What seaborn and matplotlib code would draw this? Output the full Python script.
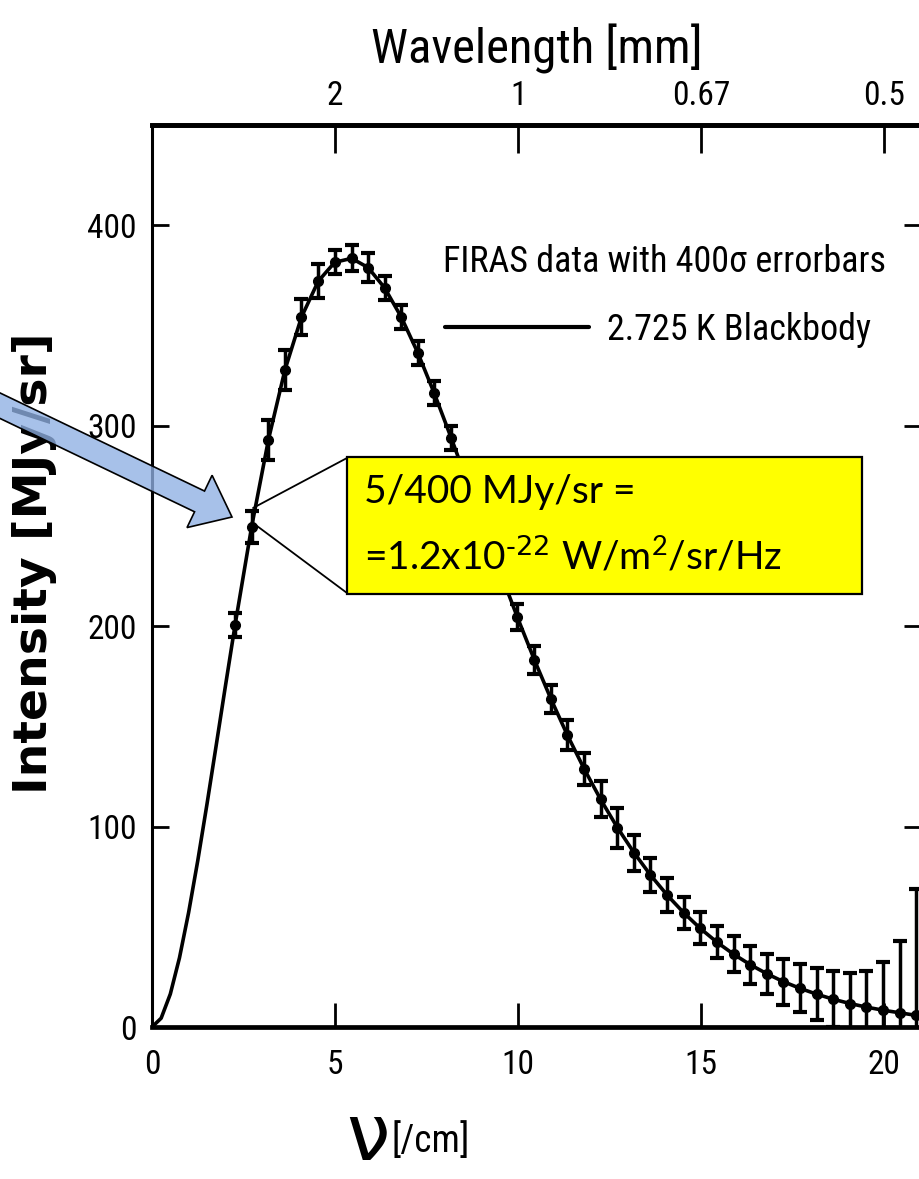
import numpy as np
import pandas as pd
import seaborn as sns
import matplotlib
matplotlib.use("Agg")
import matplotlib.pyplot as plt
from matplotlib.transforms import Affine2D
from matplotlib.patches import FancyArrow, Rectangle
from matplotlib.lines import Line2D
import logging
logging.getLogger("matplotlib.font_manager").setLevel(logging.ERROR)

# ---------------- data ----------------
nu_data = [2.27, 2.72, 3.18, 3.63, 4.08, 4.54, 4.99, 5.45, 5.90, 6.35, 6.81, 7.26,
           7.71, 8.17, 8.62, 9.08, 9.53, 9.98, 10.44, 10.89, 11.34, 11.80, 12.25,
           12.71, 13.16, 13.61, 14.07, 14.52, 14.97, 15.43, 15.88, 16.34, 16.79,
           17.24, 17.70, 18.15, 18.61, 19.06, 19.51, 19.97, 20.42, 20.87, 21.33]
intensity_data = [200.723, 249.508, 293.024, 327.770, 354.081, 372.079, 381.493,
                  383.478, 378.901, 368.833, 354.063, 336.278, 316.076, 293.924,
                  271.432, 248.239, 225.940, 204.327, 183.262, 163.830, 145.750,
                  128.835, 113.568, 99.451, 87.036, 75.876, 65.766, 57.008, 49.223,
                  42.267, 36.352, 31.062, 26.580, 22.644, 19.255, 16.391, 13.811,
                  11.716, 9.921, 8.364, 7.087, 5.801, 4.523]
error_400sigma = [6, 8, 10, 10, 9, 8.5, 6, 6.5, 7, 6, 6, 6, 6, 6, 6, 6, 6.5, 6.5,
                  7, 7, 7.5, 8, 9, 10, 9, 8.5, 8.5, 8, 8, 8, 9, 9.5, 10, 11.5, 12,
                  13, 14, 15, 18, 24, 36, 63, 100]
curve_nu_low = [0.0, 0.25, 0.5, 0.75, 1.0, 1.25, 1.5, 1.75, 2.0]
curve_I_low = [0.0, 4.40, 16.44, 34.50, 57.12, 83.01, 111.02, 140.14, 169.52]

x_ticks = [0, 5, 10, 15, 20]
y_ticks = [0, 100, 200, 300, 400]
wl_tick_nu = [5, 10, 15, 20]
wl_tick_labels = ["2", "1", "0.67", "0.5"]

curve_df = pd.DataFrame({"nu": curve_nu_low + nu_data,
                         "I": curve_I_low + intensity_data})

# ---------------- style ----------------
W, H = 920, 1179
sns.set_theme(style="ticks")
NARROW = ["Roboto Condensed", "Liberation Sans Narrow", "Arial Narrow",
          "Liberation Sans", "DejaVu Sans"]
plt.rcParams["font.family"] = NARROW
plt.rcParams["mathtext.default"] = "regular"
for key in ["text.color", "axes.labelcolor", "xtick.color", "ytick.color",
            "axes.edgecolor"]:
    plt.rcParams[key] = "black"

fig = plt.figure(figsize=(W / 100, H / 100), dpi=100)
fig.patch.set_facecolor("white")
ax = fig.add_axes([152 / W, (H - 1027) / H, (921 - 152) / W, (1027 - 125) / H])
ax.set_facecolor("white")

sns.lineplot(data=curve_df, x="nu", y="I", color="black", lw=2.6, ax=ax,
             sort=False, zorder=3)
ax.errorbar(nu_data, intensity_data, yerr=error_400sigma, fmt="o", color="black",
            ms=7, capsize=5, elinewidth=2.5, capthick=3.0, zorder=4)

ax.set_xlim(0, 21.0)
ax.set_ylim(0, 450)
ax.set_xticks(x_ticks)
ax.set_yticks(y_ticks)
ax.set_xlabel("")
ax.set_ylabel("Intensity [MJy/sr]", fontsize=34, family="DejaVu Sans",
              weight="bold", color="black")
ax.yaxis.set_label_coords(-0.124, 0.514)

ax.tick_params(axis="x", direction="in", length=17, width=2, labelsize=24,
               pad=16, top=False)
ax.tick_params(axis="y", direction="in", length=12, width=2, labelsize=24,
               pad=11, right=True)
for side in ["bottom", "top"]:
    ax.spines[side].set_linewidth(3.4)
for side in ["left", "right"]:
    ax.spines[side].set_linewidth(2.2)
    ax.spines[side].set_visible(True)
ax.spines["top"].set_visible(True)

sec = ax.secondary_xaxis("top")
sec.set_xticks(wl_tick_nu, labels=wl_tick_labels)
sec.tick_params(axis="x", direction="in", length=20, width=2, labelsize=24, pad=9)
sec.spines["top"].set_linewidth(3.4)
sec.set_xlabel("Wavelength [mm]", fontsize=35, labelpad=12)

# legend-like texts
ax.text((443 - 152) / 769, (1027 - 262) / 902, "FIRAS data with 400σ errorbars",
        transform=ax.transAxes, fontsize=26, ha="left", va="center")
ax.legend(handles=[Line2D([], [], color="black", lw=3)],
          labels=["2.725 K Blackbody"], loc="center left",
          bbox_to_anchor=((445 - 152) / 769, (1027 - 330) / 902),
          frameon=False, fontsize=26, handlelength=4.0, handletextpad=0.5,
          borderaxespad=0, borderpad=0)

# ---------------- annotation (pixel coordinates) ----------------
px = Affine2D().scale(1 / 100, -1 / 100).translate(0, H / 100) + fig.dpi_scale_trans

arrow = FancyArrow(-40, 386.5, 272, 130.5, width=23, head_width=58, head_length=36,
                   length_includes_head=True, transform=px,
                   facecolor=(0.56, 0.69, 0.89, 0.78), edgecolor="black",
                   linewidth=1.2, clip_on=False, zorder=10)
fig.add_artist(arrow)

fig.add_artist(Line2D([253, 347], [508, 458], color="black", lw=1.3, transform=px, zorder=9))
fig.add_artist(Line2D([253, 347], [523, 593], color="black", lw=1.3, transform=px, zorder=9))
fig.add_artist(Rectangle((347, 457), 515, 137, transform=px, facecolor="#FFFF00",
                         edgecolor="black", linewidth=1.6, zorder=9))
fig.text(364, 492, "5/400 MJy/sr =", transform=px, fontsize=28,
         family=["Lato", "DejaVu Sans"], ha="left", va="center", zorder=11)
fig.text(364, 556, r"=1.2x10$^{\text{-22}}$ W/m$^{2}$/sr/Hz", transform=px,
         fontsize=28, family=["Lato", "DejaVu Sans"], ha="left", va="center",
         zorder=11)

# x axis label (nu [/cm])
fig.text(368, 1138, "ν", transform=px, fontsize=56, family="DejaVu Sans",
         ha="center", va="center")
fig.text(391, 1141, "[/cm]", transform=px, fontsize=27, ha="left", va="center")

fig.savefig("out.png", dpi=100)
